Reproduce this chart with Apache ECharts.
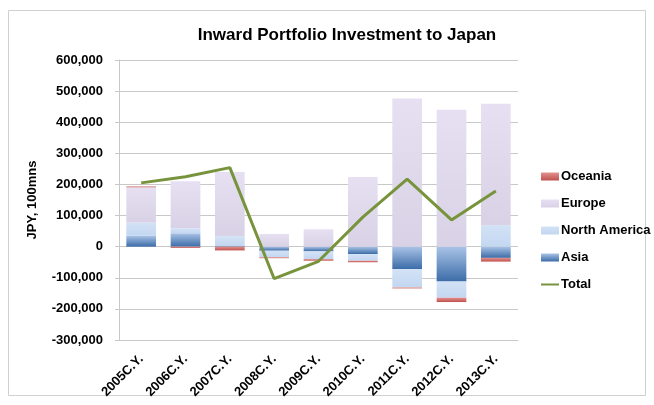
<!DOCTYPE html>
<html><head><meta charset="utf-8">
<script src="https://cdn.jsdelivr.net/npm/echarts@6/dist/echarts.min.js"></script>
<style>html,body{margin:0;padding:0;background:#fff}#c{width:654px;height:405px}</style>
</head><body><div id="c"></div>
<script>
const categories = ['2005C.Y.','2006C.Y.','2007C.Y.','2008C.Y.','2009C.Y.','2010C.Y.','2011C.Y.','2012C.Y.','2013C.Y.'];
const asia = [35000, 43000, 2000, -13000, -15000, -24000, -72000, -112000, -36000];
const northAmerica = [43000, 16000, 32000, -21000, -25000, -21000, -59000, -52000, 69000];
const europe = [113000, 151000, 206000, 41000, 56000, 224000, 476000, 440000, 390000];
const oceania = [3000, -4000, -12000, -3000, -5000, -5000, -3000, -14000, -12000];
const total = [205000, 225000, 254000, -103000, -47000, 95000, 217000, 86000, 179000];
const yTicks = [-300000, 600000, 100000];

const FONT = 'Liberation Sans';
const grad = (a, b) => new echarts.graphic.LinearGradient(0, 0, 0, 1, [{offset: 0, color: a}, {offset: 1, color: b}]);

const chart = echarts.init(document.getElementById('c'), null, {renderer: 'canvas'});
chart.setOption({
  animation: false,
  backgroundColor: '#fff',
  title: {
    text: 'Inward Portfolio Investment to Japan',
    left: 342, top: 22, textAlign: 'center',
    textStyle: {fontFamily: FONT, fontSize: 17, fontWeight: 'bold', color: '#000'}
  },
  graphic: [{
    type: 'rect', shape: {x: 8.5, y: 10.5, width: 637, height: 385},
    style: {fill: 'none', stroke: '#d0d0d0', lineWidth: 1}, silent: true
  }],
  legend: {
    orient: 'vertical', left: 535, top: 164,
    itemWidth: 18, itemHeight: 8, itemGap: 12,
    textStyle: {fontFamily: FONT, fontSize: 13, fontWeight: 'bold', color: '#000', lineHeight: 15, padding: [0, 0, 0, -3]},
    data: [
      {name: 'Oceania', icon: 'rect'},
      {name: 'Europe', icon: 'rect'},
      {name: 'North America', icon: 'rect'},
      {name: 'Asia', icon: 'rect'},
      {name: 'Total', itemStyle: {opacity: 0}}
    ]
  },
  grid: {left: 119, right: 136, top: 60, bottom: 65, containLabel: false},
  xAxis: {
    type: 'category', data: categories, position: 'bottom',
    axisLine: {onZero: false, lineStyle: {color: '#c8c8c8'}},
    axisTick: {show: false},
    axisLabel: {rotate: 45, margin: 17, fontFamily: FONT, fontSize: 13, fontWeight: 'bold', color: '#000', interval: 0}
  },
  yAxis: {
    type: 'value', min: yTicks[0], max: yTicks[1], interval: yTicks[2],
    name: 'JPY, 100mns', nameLocation: 'middle', nameGap: 80, nameRotate: 90,
    nameTextStyle: {fontFamily: FONT, fontSize: 13, fontWeight: 'bold', color: '#000'},
    axisLine: {show: true, lineStyle: {color: '#c8c8c8'}},
    axisTick: {show: true, length: 4, lineStyle: {color: '#c8c8c8'}},
    splitLine: {lineStyle: {color: '#c8c8c8'}},
    axisLabel: {margin: 16, fontFamily: FONT, fontSize: 13, fontWeight: 'bold', color: '#000',
      formatter: v => v.toLocaleString('en-US')}
  },
  series: [
    {name: 'Asia', type: 'bar', stack: 's', data: asia, barCategoryGap: '33%',
      itemStyle: {color: grad('#a9c3e6', '#3c6ca8')}},
    {name: 'North America', type: 'bar', stack: 's', data: northAmerica,
      itemStyle: {color: grad('#d3e2f6', '#c3d7f1')}},
    {name: 'Europe', type: 'bar', stack: 's', data: europe,
      itemStyle: {color: grad('#e6e0f2', '#d9d2e6')}},
    {name: 'Oceania', type: 'bar', stack: 's', data: oceania,
      itemStyle: {color: grad('#e2928f', '#c0504d')}},
    {name: 'Total', type: 'line', data: total, symbol: 'none', z: 10,
      lineStyle: {color: '#77933c', width: 3}, itemStyle: {color: '#77933c'}}
  ]
});
</script></body></html>
